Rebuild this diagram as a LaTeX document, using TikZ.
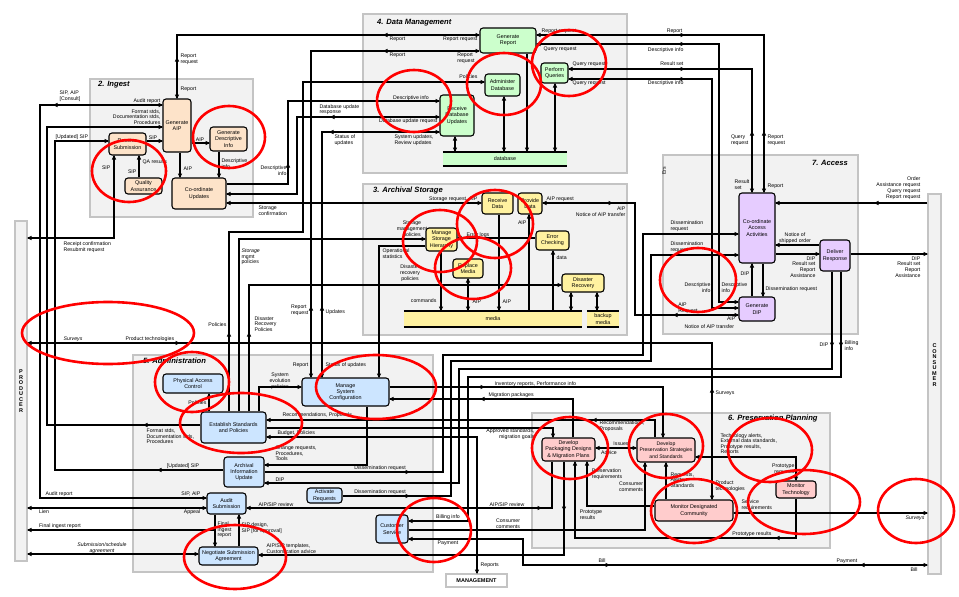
\documentclass[tikz,border=0pt]{standalone}
\usepackage{fontspec}
\setmainfont{Liberation Sans}
\definecolor{grpfill}{HTML}{F2F2F2}
\definecolor{grpdraw}{HTML}{C4C4C4}
\definecolor{ingc}{HTML}{FDE3C9}
\definecolor{dmc}{HTML}{CCFFCC}
\definecolor{asc}{HTML}{FFF2A0}
\definecolor{accc}{HTML}{E6CCFF}
\definecolor{admc}{HTML}{CCE5FF}
\definecolor{ppc}{HTML}{FFCCCC}
\newcommand\lbfont{\fontsize{5.2}{5.8}\selectfont}
\newcommand\nbfont{\fontsize{5.4}{6.3}\selectfont}
\newcommand\arR[2]{\fill (#1,#2) -- ++(-4.5,-2.2) -- ++(0,4.4) -- cycle;}
\newcommand\arL[2]{\fill (#1,#2) -- ++(4.5,-2.2) -- ++(0,4.4) -- cycle;}
\newcommand\arD[2]{\fill (#1,#2) -- ++(-2.2,-4.5) -- ++(4.4,0) -- cycle;}
\newcommand\arU[2]{\fill (#1,#2) -- ++(-2.2,4.5) -- ++(4.4,0) -- cycle;}
\begin{document}
\begin{tikzpicture}[x=1pt,y=-1pt,
  grp/.style={draw=grpdraw,fill=grpfill,line width=1.8pt,inner sep=0pt,outer sep=0pt},
  nb/.style={draw,line width=1.1pt,rounded corners=3pt,align=center,inner sep=0.5pt,font=\nbfont},
  ln/.style={line width=1.1pt},
  lb/.style={font=\lbfont,inner sep=0.4pt,align=left},
  ttl/.style={font=\fontsize{7.6}{9}\selectfont\bfseries\itshape,inner sep=0pt},
  barn/.style={draw=grpdraw,fill=grpfill,line width=1.5pt,inner sep=0pt},
  stor/.style={inner sep=0pt,font=\nbfont,align=center},
  ring/.style={draw=red,line width=2.6pt}]
\useasboundingbox (0,0) rectangle (959,597);
\fill[white] (0,0) rectangle (959,597);
% groups
\node[grp,minimum width=163pt,minimum height=138pt] (ging) at (171.5,148) {};
\node[grp,minimum width=264pt,minimum height=159pt] (gdm) at (495,93.5) {};
\node[grp,minimum width=264pt,minimum height=151pt] (gas) at (495,259.5) {};
\node[grp,minimum width=195pt,minimum height=179pt] (gacc) at (760.5,244.5) {};
\node[grp,minimum width=300pt,minimum height=217pt] (gadm) at (283,463.5) {};
\node[grp,minimum width=298pt,minimum height=135pt] (gpp) at (681,480.5) {};
\node[barn,minimum width=12pt,minimum height=340pt,align=center,font=\fontsize{5.5}{5.5}\selectfont\bfseries] (prod) at (21,391) {P\\R\\O\\D\\U\\C\\E\\R};
\node[barn,minimum width=13pt,minimum height=380pt] (cons) at (934.5,384) {};
\node[font=\fontsize{5.5}{5.5}\selectfont\bfseries,align=center,inner sep=0pt] (constxt) at (934.5,365) {C\\O\\N\\S\\U\\M\\E\\R};
\node[barn,fill=white,minimum width=61pt,minimum height=13pt,font=\fontsize{5.5}{6}\selectfont\bfseries] (mgmt) at (476.5,580.5) {MANAGEMENT};
% titles
\node[ttl,anchor=west] (t2) at (98,85) {2. Ingest};
\node[ttl,anchor=west] (t4) at (377,23) {4. Data Management};
\node[ttl,anchor=west] (t3) at (373,191) {3. Archival Storage};
\node[ttl,anchor=east] (t7) at (848,163) {7. Access};
\node[ttl,anchor=west] (t5) at (143,361) {5. Administration};
\node[ttl,anchor=west] (t6) at (728,419) {6. Preservation Planning};
% Ingest nodes
\node[nb,fill=ingc,minimum width=37pt,minimum height=22pt] (rs) at (127.5,144) {Receive\\Submission};
\node[nb,fill=ingc,minimum width=28pt,minimum height=53pt] (gaip) at (177,125.5) {Generate\\AIP};
\node[nb,fill=ingc,minimum width=37pt,minimum height=24pt] (gdi) at (228.5,139) {Generate\\Descriptive\\Info};
\node[nb,fill=ingc,minimum width=37pt,minimum height=16pt] (qa) at (143.5,186) {Quality\\Assurance};
\node[nb,fill=ingc,minimum width=54pt,minimum height=31pt] (cu) at (199,193.5) {Co-ordinate\\Updates};
% DM nodes
\node[nb,fill=dmc,minimum width=56pt,minimum height=25pt] (gr) at (508,40.5) {Generate\\Report};
\node[nb,fill=dmc,minimum width=35pt,minimum height=22pt] (adb) at (502.5,85) {Administer\\Database};
\node[nb,fill=dmc,minimum width=27pt,minimum height=20pt] (pq) at (554.5,73) {Perform\\Queries};
\node[nb,fill=dmc,minimum width=34pt,minimum height=41pt] (rdu) at (457,115.5) {Receive\\Database\\Updates};
\node[stor,fill=dmc,minimum width=124pt,minimum height=14pt] (db) at (505,159) {database};
\draw[line width=1.5pt] (db.north west) -- (db.north east) (db.south west) -- (db.south east);
% AS nodes
\node[nb,fill=asc,minimum width=31pt,minimum height=21pt] (rd) at (497.5,203.5) {Receive\\Data};
\node[nb,fill=asc,minimum width=24pt,minimum height=21pt] (pd) at (530,203.5) {Provide\\Data};
\node[nb,fill=asc,minimum width=31pt,minimum height=23pt] (msh) at (441.5,239.5) {Manage\\Storage\\Hierarchy};
\node[nb,fill=asc,minimum width=33pt,minimum height=19pt] (ec) at (552.5,240.5) {Error\\Checking};
\node[nb,fill=asc,minimum width=30pt,minimum height=19pt] (rm) at (468,268.5) {Replace\\Media};
\node[nb,fill=asc,minimum width=42pt,minimum height=18pt] (drc) at (583,283) {Disaster\\Recovery};
\node[stor,fill=asc,minimum width=178pt,minimum height=16pt] (media) at (493,319) {media};
\draw[line width=1.5pt] (media.north west) -- (media.north east) (media.south west) -- (media.south east);
\node[stor,fill=asc,minimum width=32pt,minimum height=16pt] (bmedia) at (603,319) {backup\\media};
\draw[line width=1.5pt] (bmedia.north west) -- (bmedia.north east) (bmedia.south west) -- (bmedia.south east);
% Access nodes
\node[nb,fill=accc,minimum width=36pt,minimum height=70pt] (caa) at (757,228) {Co-ordinate\\Access\\Activities};
\node[nb,fill=accc,minimum width=30pt,minimum height=31pt] (dr) at (835,255.5) {Deliver\\Response};
\node[nb,fill=accc,minimum width=36pt,minimum height=24pt] (gdip) at (757,309) {Generate\\DIP};
% Admin nodes
\node[nb,fill=admc,minimum width=60pt,minimum height=19pt] (pac) at (193,383.5) {Physical Access\\Control};
\node[nb,fill=admc,minimum width=87pt,minimum height=28pt] (msc) at (345.5,392) {Manage\\System\\Configuration};
\node[nb,fill=admc,minimum width=65pt,minimum height=31pt] (es) at (233.5,427.5) {Establish Standards\\and Policies};
\node[nb,fill=admc,minimum width=40pt,minimum height=30pt] (aiu) at (244,472) {Archival\\Information\\Update};
\node[nb,fill=admc,minimum width=35pt,minimum height=15pt] (ar) at (324.5,495.5) {Activate\\Requests};
\node[nb,fill=admc,minimum width=39pt,minimum height=21pt] (asub) at (226.5,503.5) {Audit\\Submission};
\node[nb,fill=admc,minimum width=59pt,minimum height=18pt] (nsa) at (228.5,556) {Negotiate Submission\\Agreement};
\node[nb,fill=admc,minimum width=32pt,minimum height=28pt] (cs) at (392,529) {Customer\\Service};
% PP nodes
\node[nb,fill=ppc,minimum width=53pt,minimum height=23pt] (dpd) at (568.5,449.5) {Develop\\Packaging Designs\\\& Migration Plans};
\node[nb,fill=ppc,minimum width=58pt,minimum height=24pt,font=\fontsize{5.1}{6.2}\selectfont] (dps) at (666,450) {Develop\\Preservation Strategies\\and Standards};
\node[nb,fill=ppc,minimum width=78pt,minimum height=21pt] (mdc) at (694,510.5) {Monitor Designated\\Community};
\node[nb,fill=ppc,minimum width=40pt,minimum height=17pt] (mt) at (796,489.5) {Monitor\\Technology};

% ===== connectors =====
% Ingest
\draw[ln] (gaip.north) -- (177,35) -- (gr.west|-0,35);
\arD{177}{99}\arU{177}{57}\arL{383}{35}\arR{480}{35}
\node[lb,anchor=west] at (180,89) {Report};
\node[lb,anchor=west] at (180,59) {Report\\request};
\node[lb,anchor=west] at (389,39) {Report};
\node[lb,anchor=east] at (478,39) {Report request};
\draw[ln] (gr.west|-0,51) -- (311,51) -- (msc.north-|311,0);
\arR{480}{51}\arL{383}{51}\arU{311}{306}\arD{311}{378}
\node[lb,anchor=west] at (389,55) {Report};
\node[lb] at (466,58) {Report\\request};
\node[lb,anchor=east] at (309,310) {Report\\request};
\node[lb,anchor=east] at (309,365) {Report};
\draw[ln] (es.north-|229,0) -- (229,232) -- (303,232) -- (303,82) -- (adb.west|-0,82);
\arU{229}{332}\arR{485}{82}
\node[lb,anchor=east] at (227,325) {Policies};
\node[lb,anchor=east] at (478,77) {Policies};
\draw[ln] (es.north-|239,0) -- (239,239) -- (msh.west|-0,239);
\arR{426}{239}
\node[lb,anchor=north west] at (241,248) {\itshape Storage\\mgmt\\policies};
\node[lb,align=center] at (412,229) {Storage\\management\\policies};
\draw[ln] (es.north-|249,0) -- (249,285) -- (drc.west|-0,285);
\arU{249}{332}\arR{562}{285}
\node[lb,anchor=west] at (254,324) {Disaster\\Recovery\\Policies};
\node[lb,align=center] at (410,273) {Disaster\\recovery\\policies};
\draw[ln] (es.north-|259,0) -- (259,387) -- (msc.west|-0,387);
\arR{302}{387}
\node[lb,align=center] at (280,381) {System\\evolution\\policies};
\draw[ln] (es.north-|209,0) -- (pac.south-|209,0);
\arU{209}{393}
\node[lb,anchor=east] at (207,403) {Policies};
\draw[ln] (es.west|-0,425) -- (47,425) -- (47,127) -- (gaip.west|-0,127);
\arL{143}{425}\arR{163}{127}
\node[lb,anchor=north west] at (146,428) {Format stds,\\Documentation stds,\\Procedures};
\node[lb,anchor=east,align=right] at (161,117) {Format stds,\\Documentation stds,\\Procedures};
\draw[ln] (aiu.west|-0,470) -- (55,470) -- (55,141) -- (rs.west|-0,141);
\arL{157}{470}\arR{109}{141}
\node[lb] at (183,466) {[Updated] SIP};
\node[lb,anchor=west] at (55,137) {[Updated] SIP};
\draw[ln] (asub.west|-0,498) -- (40,498) -- (40,105) -- (gaip.west|-0,105);
\arR{207}{498}\arL{53}{105}\arR{163}{105}
\node[lb,anchor=west] at (45,494) {Audit report};
\node[lb,anchor=east] at (201,494) {SIP, AIP};
\node[lb,anchor=east] at (161,101) {Audit report};
\node[lb] at (70,96) {SIP, AIP\\{}[Consult]};
\draw[ln] (rs.south-|114,0) -- (114,238) -- (prod.east|-0,238);
\arU{114}{155}\arL{27}{238}
\node[lb,anchor=east] at (111,168) {SIP};
\node[lb,anchor=north west] at (63,241) {Receipt confirmation\\Resubmit request};
\draw[ln,line width=1.6pt] (qa.north-|139,0) -- (rs.south-|139,0);
\arU{139}{155}
\node[lb,anchor=west] at (142,162) {QA results};
\node[lb,anchor=east] at (137,172) {SIP};
\draw[ln] (rs.east|-0,141) -- (gaip.west|-0,141); \arR{163}{141}
\node[lb] at (153,137.5) {SIP};
\draw[ln] (gaip.east|-0,143) -- (gdi.west|-0,143); \arR{210}{143}
\node[lb] at (200,139.5) {AIP};
\draw[ln] (gaip.south-|180,0) -- (cu.north-|180,0); \arD{180}{178}
\node[lb,anchor=west] at (183,169) {AIP};
\draw[ln] (gdi.south-|219,0) -- (cu.north-|219,0); \arD{219}{178}
\node[lb,anchor=west] at (221,164) {Descriptive\\info};
\draw[ln] (cu.east|-0,184) -- (288,184) -- (288,101) -- (rdu.west|-0,101);
\arU{288}{163}\arR{440}{101}
\node[lb,anchor=east,align=right] at (287,171) {Descriptive\\info};
\node[lb] at (411,98) {Descriptive info};
\draw[ln] (cu.east|-0,194) -- (297,194) -- (297,117) -- (rdu.west|-0,117);
\arL{226}{194}\arL{330}{117}\arR{440}{117}
\node[lb,anchor=south west] at (319,115.5) {Database update\\response};
\node[lb,anchor=east] at (438,121) {Database update request};
\draw[ln] (cu.east|-0,203) -- (rd.west|-0,203);
\arL{226}{203}\arR{482}{203}
\node[lb,anchor=north west] at (258,205) {Storage\\confirmation};
\node[lb,anchor=east] at (478,199) {Storage request, AIP};
\draw[ln] (rdu.west|-0,132) -- (322,132) -- (msc.north-|322,0);
\arR{440}{132}\arL{329}{132}\arU{322}{306}\arD{322}{378}
\node[lb,anchor=north west] at (334,134) {Status of\\updates};
\node[lb,anchor=north west] at (394,134) {System updates,\\Review updates};
\node[lb,anchor=west] at (325,312) {Updates};
\node[lb,anchor=west] at (325,365) {Status of updates};
\draw[ln] (msh.west|-0,246) -- (379,246) -- (msc.north-|379,0);
\arD{379}{378}
\node[lb,anchor=north west] at (382,248) {Operational\\statistics};
% DM internal
\draw[ln] (rdu.south-|455,0) -- (db.north-|455,0); \arU{455}{136}\arD{455}{152}
\draw[ln] (adb.south-|504,0) -- (db.north-|504,0); \arU{504}{96}\arD{504}{152}
\draw[ln] (gr.south-|527,0) -- (db.north-|527,0); \arD{527}{152}
\draw[ln] (pq.south-|555,0) -- (db.north-|555,0); \arU{555}{83}\arD{555}{152}
% DM <-> Access
\draw[ln] (gr.east|-0,35) -- (764,35) -- (caa.north-|764,0);
\arL{536}{35}\arR{685}{35}\arU{764}{131}\arD{764}{193}
\node[lb,anchor=west] at (541,31) {Report request};
\node[lb,anchor=east] at (683,31) {Report};
\draw[ln] (gr.east|-0,44) -- (719,44) -- (719,302) -- (gdip.west|-0,302);
\arL{536}{44}\arR{685}{44}\arR{739}{302}
\node[lb,anchor=west] at (543,49) {Query request};
\node[lb,anchor=east] at (684,50) {Descriptive info};
\draw[ln] (pq.east|-0,69) -- (752,69) -- (caa.north-|752,0);
\arL{568}{69}\arR{685}{69}\arU{752}{131}\arD{752}{193}
\node[lb,anchor=west] at (572,64) {Query request};
\node[lb,anchor=east] at (684,64) {Result set};
\draw[ln] (pq.east|-0,79) -- (712,79) -- (712,308) -- (gdip.west|-0,308);
\arL{568}{79}\arR{685}{79}\arR{739}{308}
\node[lb,anchor=west] at (572,83) {Query request};
\node[lb,anchor=east] at (684,83) {Descriptive info};
\node[lb,anchor=east] at (749,140) {Query\\request};
\node[lb,anchor=west] at (767,140) {Report\\request};
\node[lb,anchor=east] at (750,185) {Result\\set};
\node[lb,anchor=west] at (767,186) {Report};
\node[lb,rotate=90] at (664,171) {Ers};
% AS <-> Access
\draw[ln] (pd.east|-0,203) -- (635,203) -- (635,315) -- (gdip.west|-0,315);
\arL{542}{203}\arR{613}{203}\arL{673}{315}\arR{739}{315}
\node[lb,anchor=south west] at (546,202) {AIP request};
\node[lb,anchor=east] at (626,209) {AIP};
\node[lb,anchor=east] at (626,215) {Notice of AIP transfer};
\node[lb] at (688,308) {AIP\\Request};
\node[lb,anchor=east] at (736,319) {AIP};
\node[lb,anchor=west] at (684,327) {Notice of AIP transfer};
\node[lb,anchor=east,align=right] at (711,288) {Descriptive\\info};
\node[lb,anchor=west] at (721,288) {Descriptive\\info};
% AS internal
\draw[ln] (rd.south-|499,0) -- (media.north-|499,0); \arD{499}{311}
\node[lb,anchor=west] at (502,302) {AIP};
\draw[ln] (media.north-|529,0) -- (pd.south-|529,0); \arU{529}{214}
\node[lb,anchor=east] at (527,223) {AIP};
\draw[ln] (media.north-|553,0) -- (ec.south-|553,0); \arU{553}{250}
\node[lb,anchor=west] at (556,258) {data};
\draw[ln,line width=1.6pt] (drc.south-|571,0) -- (media.north-|571,0); \arU{571}{292}\arD{571}{311}
\draw[ln,line width=1.6pt] (drc.south-|597,0) -- (bmedia.north-|597,0); \arU{597}{292}\arD{597}{311}
\draw[ln] (msh.south-|441,0) -- (media.north-|441,0); \arD{441}{311}
\node[lb,anchor=east] at (437,301) {commands};
\draw[ln] (rm.south-|468,0) -- (media.north-|468,0); \arU{468}{278}\arD{468}{311}
\node[lb,anchor=west] at (472,302) {AIP};
\draw[ln] (ec.west|-0,238) -- (msh.east|-0,238); \arL{457}{238}
\node[lb] at (478,235) {Error logs};
% Access internal
\draw[ln] (caa.south-|763,0) -- (gdip.north-|763,0); \arD{763}{297}
\node[lb,anchor=west] at (765,289) {Dissemination request};
\draw[ln] (gdip.north-|752,0) -- (caa.south-|752,0); \arU{752}{263}
\node[lb,anchor=east] at (750,274) {DIP};
\draw[ln] (dr.west|-0,245) -- (caa.east|-0,245); \arL{775}{245}
\node[lb,align=center] at (795,238) {Notice of\\shipped order};
\draw[ln] (caa.east|-0,254) -- (dr.west|-0,254); \arR{820}{254}
\node[lb,anchor=north east,align=right] at (816,256) {DIP\\Result set\\Report\\Assistance};
\draw[ln] (dr.east|-0,254) -- (cons.west|-0,254); \arR{928}{254}
\node[lb,anchor=north east,align=right] at (921,256) {DIP\\Result set\\Report\\Assistance};
\draw[ln] (cons.west|-0,203) -- (caa.east|-0,203); \arL{775}{203}\arL{874}{203}
\node[lb,anchor=south east,align=right] at (921,200) {Order\\Assistance request\\Query request\\Report request};
% Dissemination, DIP, billing
\draw[ln] (aiu.east|-0,472) -- (443,472) -- (443,355) -- (643,355) -- (643,234) -- (caa.west|-0,234);
\arR{410}{472}\arR{739}{234}
\node[lb] at (380,468) {Dissemination request};
\node[lb,anchor=south west] at (670,232) {Dissemination\\request};
\draw[ln] (ar.east|-0,496) -- (451,496) -- (451,361) -- (651,361) -- (651,255) -- (caa.west|-0,255);
\arR{410}{496}\arR{739}{255}
\node[lb] at (380,492) {Dissemination request};
\node[lb,anchor=south west] at (670,253) {Dissemination\\request};
\draw[ln] (dr.south-|832,0) -- (832,369) -- (459,369) -- (459,483) -- (aiu.east|-0,483);
\arD{832}{347}\arL{264}{483}
\node[lb,anchor=east] at (829,345) {DIP};
\node[lb,anchor=west] at (275,480) {DIP};
\draw[ln] (dr.south-|841,0) -- (841,377) -- (468,377) -- (468,521) -- (cs.east|-0,521);
\arD{841}{347}\arL{408}{521}
\node[lb,anchor=west] at (844,346) {Billing\\info};
\node[lb] at (448,517) {Billing info};
% Surveys
\draw[ln] (prod.east|-0,343) -- (712,343) -- (mdc.north-|712,0);
\arL{27}{343}\arR{180}{343}\arU{712}{388}\arD{712}{500}
\node[lb,anchor=west] at (63,339) {\itshape Surveys};
\node[lb,anchor=west] at (125,339) {Product technologies};
\node[lb,anchor=west] at (715,393) {Surveys};
\node[lb,anchor=west] at (715,486) {Product\\technologies};
\draw[ln] (mdc.east|-0,513) -- (cons.west|-0,513); \arL{733}{513}\arR{928}{513}
\node[lb,anchor=west] at (741,505) {Service\\requirements};
\node[lb,anchor=east] at (925,518) {\itshape Surveys};
% Admin <-> PP
\draw[ln] (msc.east|-0,387) -- (663,387) -- (dps.north-|663,0);
\arR{485}{387}\arD{663}{438}
\node[lb,anchor=west] at (494,384) {Inventory reports, Performance info};
\draw[ln] (dpd.north-|573,0) -- (573,399) -- (msc.east|-0,399);
\arL{480}{399}\arL{389}{399}
\node[lb,anchor=west] at (488,395) {Migration packages};
\draw[ln] (dps.north-|655,0) -- (655,420) -- (es.east|-0,420);
\arL{592}{420}\arL{266}{420}
\node[lb,anchor=west] at (599,426) {Recommendations,\\Proposals};
\node[lb,anchor=west] at (282,415) {Recommendations, Proposals};
\draw[ln] (es.east|-0,428) -- (553,428) -- (dpd.north-|553,0);
\arD{553}{438}
\node[lb,anchor=east,align=right] at (535,434) {Approved standards,\\migration goals};
\draw[ln] (es.east|-0,437) -- (477,437) -- (mgmt.north-|477,0);
\arL{266}{437}\arD{477}{574}
\node[lb,anchor=west] at (277,433) {Budget, Policies};
\node[lb,anchor=west] at (480,565) {Reports};
\draw[ln] (msc.south-|367,0) -- (367,465) -- (aiu.east|-0,465);
\arL{264}{465}
\node[lb,anchor=north west] at (275,445) {Change requests,\\Procedures,\\Tools};
% PP internal
\draw[ln] (dpd.east|-0,448) -- (dps.west|-0,448); \arL{595}{448}\arR{637}{448}
\node[lb] at (621,444) {Issues};
\node[lb] at (609,453) {Advice};
\draw[ln] (mdc.north-|666,0) -- (dps.south-|666,0); \arU{666}{462}
\node[lb,anchor=north west] at (670,472) {Requests,\\Alerts,\\Standards};
\draw[ln] (cs.east|-0,530) -- (645,530) -- (dps.south-|645,0); \arU{645}{462}
\node[lb] at (508,524) {Consumer\\comments};
\node[lb] at (631,487) {Consumer\\comments};
\draw[ln] (dps.east|-0,457) -- (796,457) -- (mt.north); \arL{695}{457}\arD{796}{481}
\node[lb,anchor=north west,font=\fontsize{5.2}{5.4}\selectfont] at (720,433) {Technology alerts,\\External data standards,\\Prototype results,\\Reports};
\node[lb,anchor=east,align=right] at (795,469) {Prototype\\requests};
\draw[ln] (mt.south) -- (796,538) -- (575,538) -- (dpd.south-|575,0); \arL{775}{538}\arU{575}{461}
\node[lb] at (752,534) {Prototype results};
\node[lb] at (591,515) {Prototype\\results};
\draw[ln] (mdc.west|-0,506) -- (587,506) -- (dpd.south-|587,0); \arU{587}{461}
\node[lb] at (607,474) {Preservation\\requirements};
\draw[ln] (asub.east|-0,508) -- (552,508) -- (dpd.south-|552,0); \arL{246}{508}\arR{542}{508}
\node[lb] at (276,505) {AIP/SIP review};
\node[lb] at (507,505) {AIP/SIP review};
\draw[ln] (dpd.south-|564,0) -- (564,555) -- (nsa.east|-0,555); \arD{564}{511}\arL{258}{555}
\node[lb,anchor=south west] at (266,554) {AIP/SIP templates,\\Customization advice};
% Customer service <-> consumer
\draw[ln] (cs.east|-0,539) -- (523,539) -- (523,565) -- (cons.west|-0,565);
\arL{408}{539}\arR{610}{565}\arL{860}{565}\arR{928}{565}
\node[lb] at (448,543) {Payment};
\node[lb] at (602,561) {Bill};
\node[lb] at (847,561) {Payment};
\node[lb] at (914,570) {Bill};
% Producer <-> Admin
\draw[ln] (prod.east|-0,508) -- (asub.west|-0,508); \arL{27}{508}\arR{207}{508}
\node[lb] at (44,512) {Lien};
\node[lb] at (192,512) {Appeal};
\draw[ln] (prod.east|-0,530) -- (215,530); \arL{27}{530}
\node[lb] at (60,526) {Final ingest report};
\draw[ln] (asub.south-|215,0) -- (nsa.north-|215,0); \arD{215}{547}
\node[lb,anchor=north west] at (217,521) {Final\\ingest\\report};
\draw[ln] (nsa.north-|239,0) -- (asub.south-|239,0); \arU{239}{514}
\node[lb,anchor=north west] at (241,522) {SIP design,\\SIP [for approval]};
\draw[ln] (prod.east|-0,554) -- (nsa.west|-0,554); \arL{27}{554}\arR{199}{554}
\node[lb,align=center] at (102,548) {\itshape Submission/schedule\\\itshape agreement};
% red rings
\draw[ring] (229,137) ellipse [x radius=36, y radius=31];
\draw[ring] (129,171) ellipse [x radius=37, y radius=31];
\draw[ring] (414,101) ellipse [x radius=37, y radius=31];
\draw[ring] (504,84) ellipse [x radius=37, y radius=31];
\draw[ring] (569,63) ellipse [x radius=37, y radius=33];
\draw[ring] (440,241) ellipse [x radius=37, y radius=31];
\draw[ring] (495,224) ellipse [x radius=38, y radius=34];
\draw[ring] (473,268) ellipse [x radius=38, y radius=31];
\draw[ring] (698,280) ellipse [x radius=38, y radius=32];
\draw[ring] (108,333) ellipse [x radius=86, y radius=31];
\draw[ring] (192,382) ellipse [x radius=37, y radius=30];
\draw[ring] (241,423) ellipse [x radius=61, y radius=30];
\draw[ring] (376,387) ellipse [x radius=60, y radius=32];
\draw[ring] (235,557) ellipse [x radius=51, y radius=32];
\draw[ring] (434,530) ellipse [x radius=37, y radius=32];
\draw[ring] (570,448) ellipse [x radius=38, y radius=31];
\draw[ring] (666,446) ellipse [x radius=37, y radius=32];
\draw[ring] (770,450) ellipse [x radius=42, y radius=32];
\draw[ring] (694,511) ellipse [x radius=43, y radius=32];
\draw[ring] (804,502) ellipse [x radius=56, y radius=32];
\draw[ring] (916,511) ellipse [x radius=38, y radius=32];
\end{tikzpicture}
\end{document}
